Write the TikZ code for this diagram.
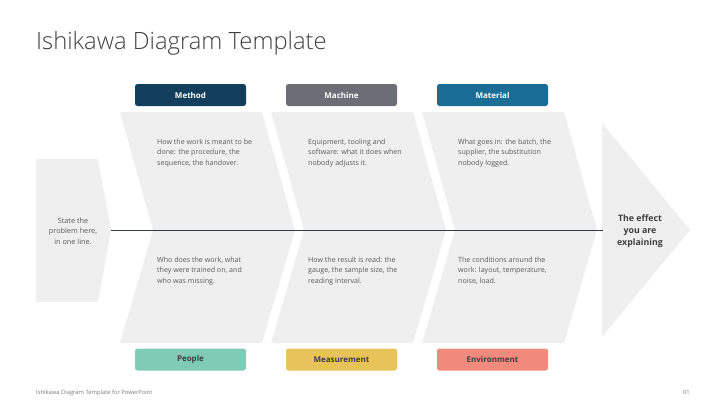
\documentclass[tikz,border=0pt]{standalone}
\usepackage{fontspec}
\setmainfont{Open Sans}
\newfontfamily\titlefont{Open Sans Light}
\usepackage{tikz}

\definecolor{boneGray}{HTML}{EFEFEF}
\definecolor{spineDark}{HTML}{343A42}
\definecolor{noteGray}{HTML}{595959}
\definecolor{titleGray}{HTML}{404040}
\definecolor{methodBlue}{HTML}{143F5C}
\definecolor{machineGray}{HTML}{6B6E75}
\definecolor{materialBlue}{HTML}{1A6D94}
\definecolor{peopleGreen}{HTML}{7FCBB6}
\definecolor{measureYellow}{HTML}{E8C35A}
\definecolor{envRed}{HTML}{EF8A7D}

\tikzset{
  bone/.style={fill=boneGray, draw=none},
  cause/.style={rounded corners=2.5pt, minimum width=111pt, minimum height=22pt,
    inner sep=0pt, font=\fontsize{8}{9}\selectfont\bfseries},
  note/.style={align=left, anchor=north west, inner sep=0pt,
    font=\fontsize{7.1}{10.3}\selectfont, text=noteGray},
}

\begin{document}
\begin{tikzpicture}[x=1pt, y=-1pt]

\useasboundingbox (0,0) rectangle (726,408);

% title
\node [anchor=base west, inner sep=0pt, text=titleGray,
  font=\titlefont\fontsize{23.8}{28}\selectfont] (title) at (36,49) {Ishikawa Diagram Template};

% problem head
\fill [bone] (36,159) -- (98,159) -- (111,230) -- (98,302) -- (36,302) -- cycle;
\node [align=center, inner sep=0pt, text=noteGray,
  font=\fontsize{7.3}{10.3}\selectfont] (problem) at (73,231)
  {State the\\problem here,\\in one line.};

% bones
\foreach \x in {120,271,422}
  \fill [bone] (\x,112) -- ++(142,0) -- ++(33,118) -- ++(-33,113)
    -- ++(-142,0) -- ++(33,-113) -- cycle;

% effect head
\fill [bone] (602,123) -- (690,230) -- (602,337) -- cycle;
\node [align=center, inner sep=0pt, text=titleGray,
  font=\fontsize{8.8}{12}\selectfont\bfseries] (effect) at (640,231)
  {The effect\\you are\\explaining};

% spine
\coordinate (spine-start) at (111,230);
\coordinate (spine-end) at (603,230);
\draw [spineDark, line width=1pt] (spine-start) -- (spine-end);

% upper causes
\foreach \name/\col [count=\i] in {Method/methodBlue, Machine/machineGray, Material/materialBlue}
  \node [cause, fill=\col, text=white] (top-\i) at (39.5+151*\i,95) {\name};

% lower causes
\foreach \name/\col [count=\i] in {People/peopleGreen, Measurement/measureYellow, Environment/envRed}
  \node [cause, fill=\col, text=titleGray] (bottom-\i) at (39.5+151*\i,359.5) {\name};

% notes
\node [note] (note-top-1) at (157,139) {How the work is meant to be\\done: the procedure, the\\sequence, the handover.};
\node [note] (note-top-2) at (308,139) {Equipment, tooling and\\software: what it does when\\nobody adjusts it.};
\node [note] (note-top-3) at (458,139) {What goes in: the batch, the\\supplier, the substitution\\nobody logged.};
\node [note] (note-bottom-1) at (157,257) {Who does the work, what\\they were trained on, and\\who was missing.};
\node [note] (note-bottom-2) at (308,257) {How the result is read: the\\gauge, the sample size, the\\reading interval.};
\node [note] (note-bottom-3) at (458,257) {The conditions around the\\work: layout, temperature,\\noise, load.};

% footer
\node [anchor=base west, inner sep=0pt, text=noteGray!80,
  font=\fontsize{5.8}{7}\selectfont] (footer) at (36,394) {Ishikawa Diagram Template for PowerPoint};
\node [anchor=base east, inner sep=0pt, text=noteGray!80,
  font=\fontsize{5.8}{7}\selectfont] (page) at (690,394) {01};

\end{tikzpicture}
\end{document}
